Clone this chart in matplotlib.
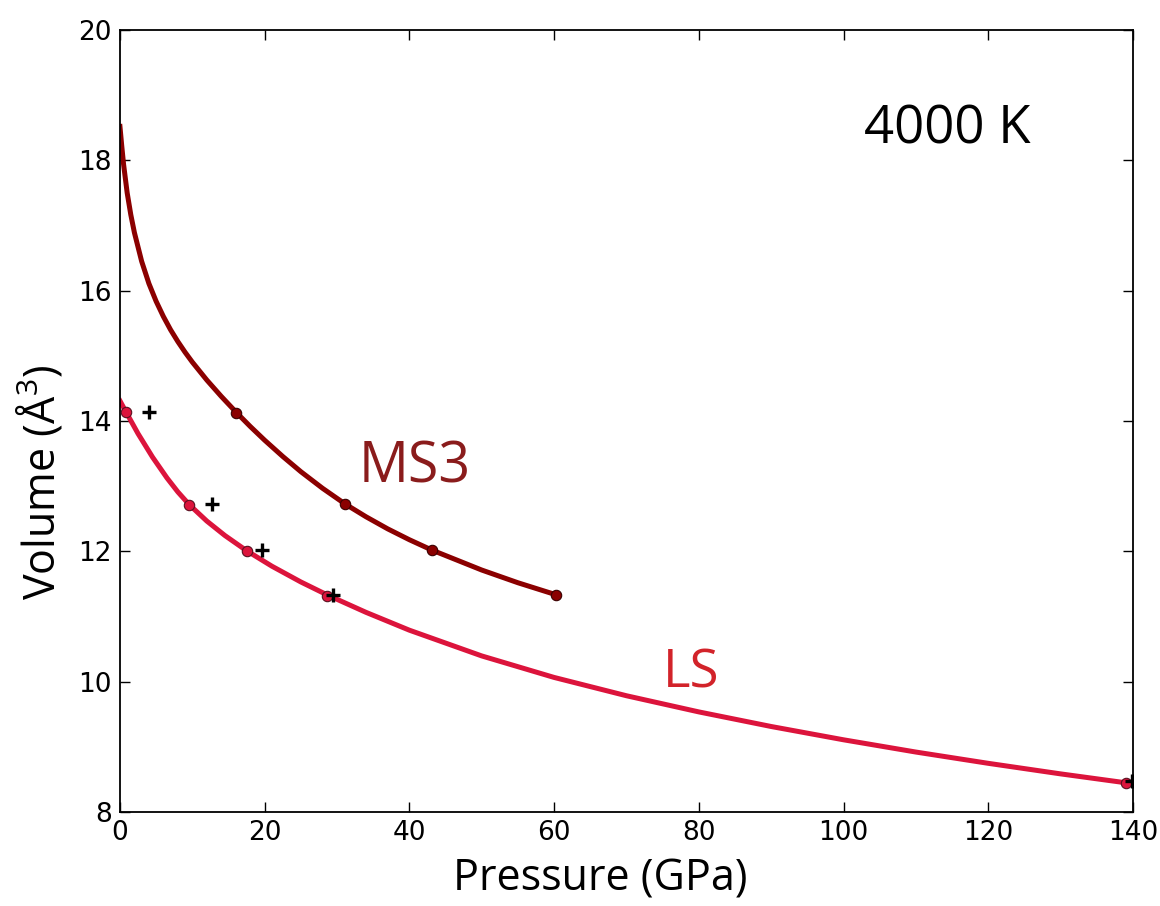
import matplotlib
matplotlib.use("Agg")
import matplotlib.pyplot as plt

plt.rcParams['mathtext.fontset'] = 'custom'
plt.rcParams['mathtext.rm'] = 'Open Sans'
plt.rcParams['mathtext.it'] = 'Open Sans'

# ---- data ----
# MS3 fitted curve (Pressure GPa, Volume A^3)
ms3_curve_p = [0, 0.25, 0.5, 1, 1.5, 2, 3, 4, 5, 6, 7, 8, 9, 10, 12, 14, 16.1,
               18, 20, 22.5, 25, 28, 31.1, 34, 37, 40, 43.1, 50, 55, 60.2]
ms3_curve_v = [18.52, 18.22, 17.94, 17.50, 17.165, 16.89, 16.45, 16.11, 15.837, 15.604,
               15.399, 15.219, 15.055, 14.904, 14.629, 14.378, 14.13, 13.917, 13.705,
               13.456, 13.2225, 12.9675, 12.728, 12.531, 12.345, 12.178, 12.02, 11.713,
               11.518, 11.336]
# MS3 data points
ms3_p = [16.1, 31.1, 43.1, 60.2]
ms3_v = [14.13, 12.72, 12.02, 11.33]

# LS fitted curve
ls_curve_p = [0, 0.83, 2.5, 4.5, 6.5, 8, 9.58, 12, 14.5, 17.5, 21, 25, 28.65, 34, 40,
              50, 60, 70, 80, 90, 100, 110, 120, 130, 139.1]
ls_curve_v = [14.31, 14.14, 13.806, 13.446, 13.126, 12.912, 12.716, 12.465, 12.243, 12.01,
              11.772, 11.53, 11.331, 11.064, 10.79, 10.395, 10.065, 9.784, 9.536, 9.312,
              9.108, 8.92, 8.747, 8.585, 8.447]
# LS data points
ls_p = [0.83, 9.58, 17.5, 28.65, 139.1]
ls_v = [14.14, 12.71, 12.01, 11.32, 8.45]

# cross markers
cross_p = [4.05, 12.66, 19.67, 29.5, 139.8]
cross_v = [14.14, 12.72, 12.02, 11.33, 8.47]

x_ticks = [0, 20, 40, 60, 80, 100, 120, 140]
y_ticks = [8, 10, 12, 14, 16, 18, 20]

MS3_COLOR = '#8b0000'
LS_COLOR = '#dc143c'

fig = plt.figure(figsize=(11.6, 9.06), dpi=100)
ax = fig.add_axes([0.1034, 0.10375, 0.8733, 0.86315])

ax.plot(ms3_curve_p, ms3_curve_v, color=MS3_COLOR, lw=3.6, solid_joinstyle='round', zorder=2)
ax.plot(ls_curve_p, ls_curve_v, color=LS_COLOR, lw=3.6, solid_joinstyle='round', zorder=2)
ax.plot(ms3_p, ms3_v, 'o', color=MS3_COLOR, mec='#3a0000', mew=0.8, ms=7.5, zorder=3)
ax.plot(ls_p, ls_v, 'o', color=LS_COLOR, mec='#5a1020', mew=0.8, ms=7.5, zorder=3)
ax.plot(cross_p, cross_v, '+', color='black', ms=10, mew=2.4, zorder=4)

ax.set_xlim(0, 140)
ax.set_ylim(8, 20)
ax.set_xticks(x_ticks)
ax.set_yticks(y_ticks)
ax.tick_params(direction='in', length=7, width=1, top=True, right=True,
               labelsize=19, pad=6)
for s in ax.spines.values():
    s.set_linewidth(1.3)

ax.set_xlabel('Pressure (GPa)', fontsize=31, family='Open Sans')
ax.xaxis.set_label_coords(0.474, -0.058)
ax.set_ylabel('Volume (Å$^3$)', fontsize=31, family='Open Sans')
ax.yaxis.set_label_coords(-0.053, 0.422)

ax.text(114.3, 18.47, '4000 K', fontsize=38, family='Open Sans', color='black',
        ha='center', va='center')
ax.text(40.8, 13.28, 'MS3', fontsize=40, family='Open Sans', color='#8a1c1c',
        ha='center', va='center')
ax.text(78.9, 10.12, 'LS', fontsize=38, family='Open Sans', color='#d2232a',
        ha='center', va='center')

fig.savefig('out.png', dpi=100)
